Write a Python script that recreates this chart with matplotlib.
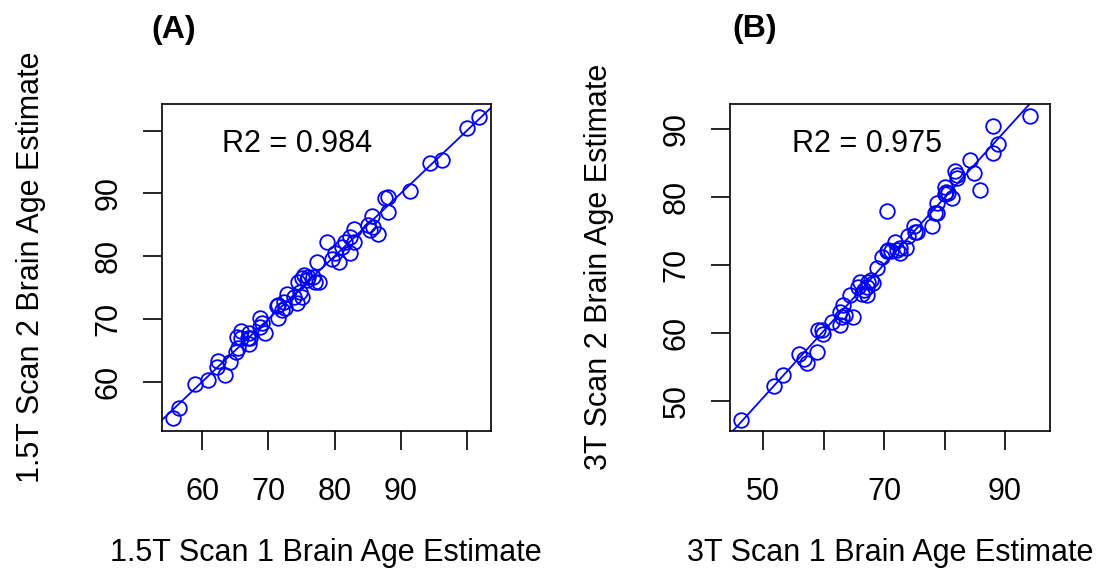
import matplotlib
matplotlib.use('agg')
import matplotlib.pyplot as plt
import numpy as np

plt.rcParams['font.family'] = ['Liberation Sans', 'DejaVu Sans']

# Panel A: 1.5T scan 1 vs scan 2 brain age estimates
a_scan1 = [55.6, 56.4, 58.9, 60.9, 62.4, 63.4, 64.2, 65.1, 65.4, 65.3,
           65.8, 67.1, 67.0, 66.9, 68.7, 69.0, 69.5, 68.7, 71.5, 71.5,
           72.3, 72.8, 72.5, 73.8, 74.3, 75.0, 74.8, 75.3, 75.8, 76.8,
           77.6, 77.0, 77.3, 78.8, 79.6, 80.6, 81.1, 82.4, 82.4, 82.9,
           82.9, 81.6, 85.4, 85.6, 86.6, 87.6, 88.1, 88.1, 91.4, 94.4,
           96.2, 100.0, 101.8, 85.1, 85.8, 75.0, 76.0, 74.5, 71.3, 72.0,
           65.9, 67.2, 62.2, 80.1]
a_scan2 = [54.2, 55.8, 59.7, 60.2, 63.3, 61.1, 63.2, 64.8, 65.3, 67.1,
           68.1, 67.8, 66.0, 66.9, 70.1, 69.3, 67.8, 68.8, 70.1, 72.2,
           72.7, 74.0, 71.7, 73.5, 72.5, 73.5, 74.3, 77.0, 76.2, 76.7,
           75.9, 75.9, 79.0, 82.3, 79.5, 79.1, 81.5, 80.5, 83.1, 84.4,
           82.3, 82.3, 84.2, 86.4, 83.6, 89.2, 89.5, 87.1, 90.4, 94.9,
           95.3, 100.5, 102.2, 85.0, 84.7, 76.5, 76.7, 75.9, 72.0, 71.4,
           66.9, 66.9, 62.4, 80.5]

# Panel B: 3T scan 1 vs scan 2 brain age estimates
b_scan1 = [46.4, 51.8, 53.3, 55.9, 56.7, 57.2, 58.9, 59.1, 59.9, 61.3,
           62.7, 62.7, 63.5, 64.3, 64.9, 63.2, 65.7, 66.6, 67.1, 67.4,
           68.2, 66.3, 68.8, 69.6, 70.4, 70.7, 71.2, 71.8, 72.6, 73.7,
           74.0, 75.0, 75.4, 77.9, 78.4, 78.7, 80.1, 80.6, 81.2, 81.7,
           82.0, 84.2, 84.8, 85.9, 88.1, 88.9, 88.1, 94.1, 72.1, 72.6,
           80.3, 80.1, 70.4, 67.1, 66.0, 67.9, 59.7, 63.0, 82.0, 75.1,
           78.7]
b_scan2 = [47.2, 52.2, 53.8, 56.9, 56.1, 55.5, 57.2, 60.4, 59.9, 61.6,
           61.2, 63.1, 62.6, 65.6, 62.4, 64.1, 66.8, 66.3, 65.6, 67.5,
           67.3, 65.7, 69.5, 71.2, 77.9, 72.2, 72.0, 73.4, 71.7, 72.5,
           74.2, 75.7, 74.9, 75.7, 77.6, 79.1, 81.5, 80.6, 79.8, 83.8,
           82.8, 85.5, 83.5, 81.0, 90.5, 87.8, 86.5, 92.0, 72.2, 72.5,
           80.8, 80.4, 72.0, 66.8, 67.5, 67.8, 60.4, 62.4, 83.3, 74.9,
           77.6]

r2_labels = ['R2 = 0.984', 'R2 = 0.975']
panel_titles = ['(A)', '(B)']
x_labels = ['1.5T Scan 1 Brain Age Estimate', '3T Scan 1 Brain Age Estimate']
y_labels = ['1.5T Scan 2 Brain Age Estimate', '3T Scan 2 Brain Age Estimate']
a_ticks = [60, 70, 80, 90, 100]
a_ticklabels = ['60', '70', '80', '90', '']
b_ticks = [50, 60, 70, 80, 90]
b_xticklabels = ['50', '', '70', '', '90']
b_yticklabels = ['50', '60', '70', '80', '90']

W, H = 1113, 582
fig = plt.figure(figsize=(W / 100, H / 100), dpi=100)

# axes boxes in pixels: left, top, right, bottom
boxes = [(161.7, 104, 490.7, 430.7), (730, 104, 1050, 430.7)]
panels = [
    (a_scan1, a_scan2, (53.86, 103.6), (52.2, 104.25),
     a_ticks, a_ticklabels, a_ticks, a_ticklabels, (0.411, 0.878), (174, 30)),
    (b_scan1, b_scan2, (44.5, 97.45), (45.6, 93.7),
     b_ticks, b_xticklabels, b_ticks, b_yticklabels, (0.427, 0.878), (755, 29)),
]

blue = '#0000FF'
for i, (xs, ys, xl, yl, xt, xtl, yt, ytl, r2pos, tpos) in enumerate(panels):
    l, t, r, b = boxes[i]
    ax = fig.add_axes([l / W, 1 - b / H, (r - l) / W, (b - t) / H])
    ax.plot(xs, ys, 'o', mfc='none', mec=blue, ms=10.5, mew=1.3)
    slope, icpt = np.polyfit(xs, ys, 1)
    ax.axline((0, icpt), slope=slope, color=blue, lw=1.3)
    ax.set_xlim(*xl)
    ax.set_ylim(*yl)
    ax.set_xticks(xt)
    ax.set_xticklabels(xtl)
    ax.set_yticks(yt)
    ax.set_yticklabels(ytl, rotation=90, va='center')
    ax.tick_params(axis='both', length=13.5, width=1.2, labelsize=22)
    ax.tick_params(axis='x', pad=20)
    ax.tick_params(axis='y', pad=14)
    for sp in ax.spines.values():
        sp.set_linewidth(1.2)
    ax.text(r2pos[0], r2pos[1], r2_labels[i], transform=ax.transAxes,
            fontsize=22, ha='center', va='center')
    cx = (l + r) / 2
    cy = (t + b) / 2
    fig.text(cx / W, 1 - 553 / H, x_labels[i], fontsize=22,
             ha='center', va='center')
    fig.text((l - 131) / W, 1 - cy / H, y_labels[i], fontsize=22,
             rotation=90, ha='center', va='center')
    fig.text(tpos[0] / W, 1 - tpos[1] / H, panel_titles[i], fontsize=23,
             fontweight='bold', ha='center', va='center')

fig.savefig('out.png', dpi=100)
